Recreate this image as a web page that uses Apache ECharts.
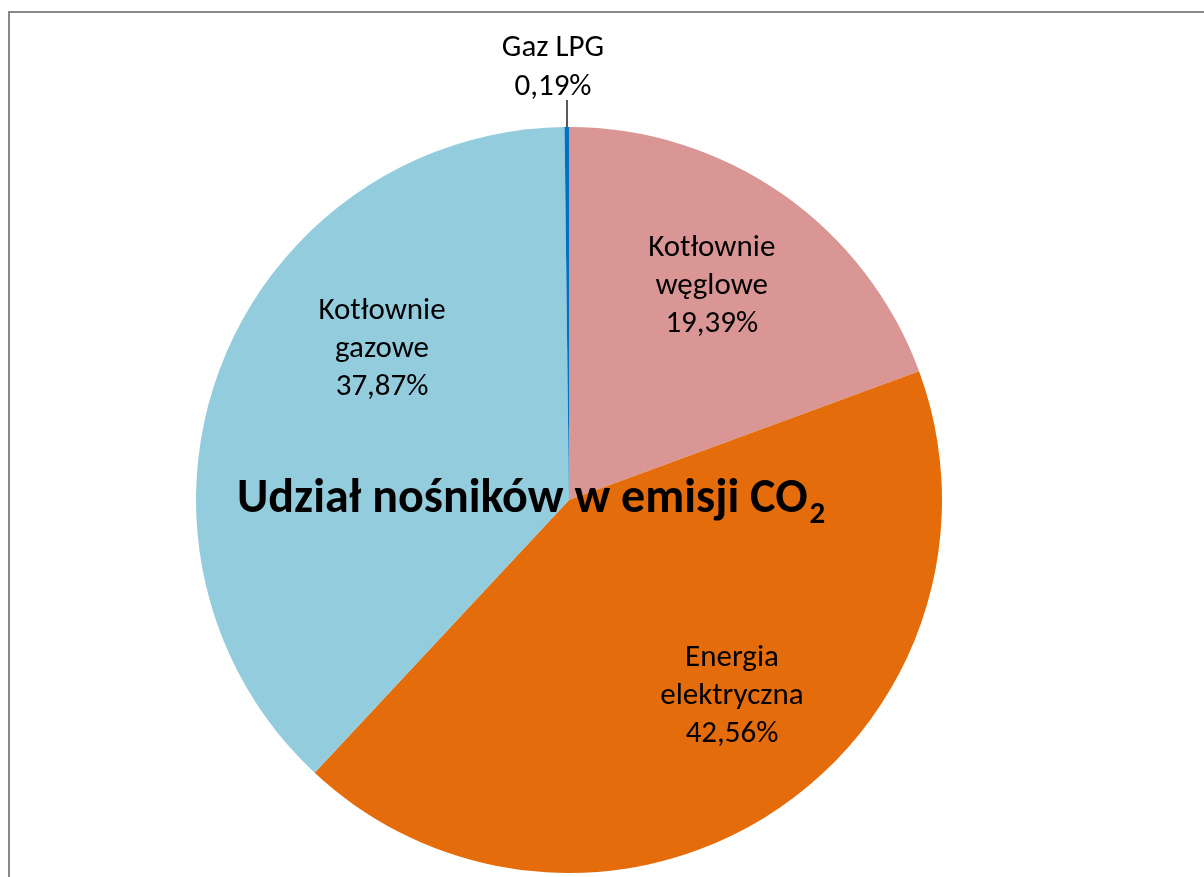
<!DOCTYPE html>
<html>
<head>
<meta charset="utf-8">
<script src="https://cdn.jsdelivr.net/npm/echarts@6/dist/echarts.min.js"></script>
<style>
    html, body { margin: 0; padding: 0; background: #fff; }
    #chart { width: 1204px; height: 877px; }
</style>
</head>
<body>
<div id="chart"></div>
<script>
// kategorie i udziały (%)
const categories = ['Kotłownie\nwęglowe', 'Energia\nelektryczna', 'Kotłownie\ngazowe', 'Gaz LPG']
const shares = [19.39, 42.56, 37.87, 0.19]
const colors = ['#D99694', '#E46C0A', '#93CDDD', '#0070C0']

// przesunięcia etykiet względem środka łuku
const labelShift = [[-2, -6], [23, -14], [49, -59], [0, 0]]

const center = [569, 500]
const radius = 373
const font = 'Calibri, Carlito, "Open Sans", sans-serif'

const pieData = categories.map((name, i) => ({ name, value: shares[i] }))
const fmt = v => v.toFixed(2).replace('.', ',') + '%'

const chart = echarts.init(document.getElementById('chart'))
chart.setOption({
    animation: false,
    graphic: [
        {
            type: 'rect',
            shape: { x: 9, y: 12, width: 1400, height: 1000 },
            style: { fill: 'none', stroke: '#888', lineWidth: 2 },
            z: 0
        },
        {
            type: 'text',
            left: 237,
            top: 468,
            z: 100,
            style: {
                text: '{a|Udział nośników w emisji CO}{b|2}',
                rich: {
                    a: { fontSize: 48, fontWeight: 'bold', fontFamily: font, fill: '#000', lineHeight: 58 },
                    b: { fontSize: 31, fontWeight: 'bold', fontFamily: font, fill: '#000', padding: [32, 0, 0, 2], lineHeight: 58 }
                }
            }
        }
    ],
    series: [
        {
            type: 'pie',
            center,
            radius,
            startAngle: 90,
            clockwise: true,
            silent: true,
            data: pieData.map((d, i) => ({
                ...d,
                itemStyle: { color: colors[i] },
                label: { show: i === 3 },
                labelLine: { show: i === 3 }
            })),
            label: {
                position: 'outside',
                formatter: p => p.name + '\n' + fmt(p.value),
                fontSize: 31,
                lineHeight: 39,
                fontFamily: font,
                color: '#000',
                align: 'center'
            },
            labelLine: { length: 26, length2: 0, lineStyle: { color: '#000', width: 1.3 } },
            labelLayout: p => p.dataIndex === 3
                ? {
                    x: center[0] - 16,
                    y: 68,
                    align: 'center',
                    verticalAlign: 'middle',
                    labelLinePoints: [
                        [center[0] - 2, center[1] - radius],
                        [center[0] - 2, center[1] - radius - 27],
                        [center[0] - 2, center[1] - radius - 27]
                    ]
                }
                : {}
        },
        {
            // warstwa tylko dla etykiet wewnętrznych
            type: 'pie',
            center,
            radius: [127, 373],
            startAngle: 90,
            clockwise: true,
            silent: true,
            itemStyle: { color: 'transparent' },
            data: pieData.map((d, i) => ({ ...d, label: { show: i !== 3 } })),
            label: {
                position: 'inside',
                formatter: p => p.name + '\n' + fmt(p.value),
                fontSize: 31,
                lineHeight: 38,
                fontFamily: font,
                color: '#000',
                align: 'center'
            },
            labelLine: { show: false },
            labelLayout: p => ({ dx: labelShift[p.dataIndex][0], dy: labelShift[p.dataIndex][1] })
        }
    ]
})
</script>
</body>
</html>
